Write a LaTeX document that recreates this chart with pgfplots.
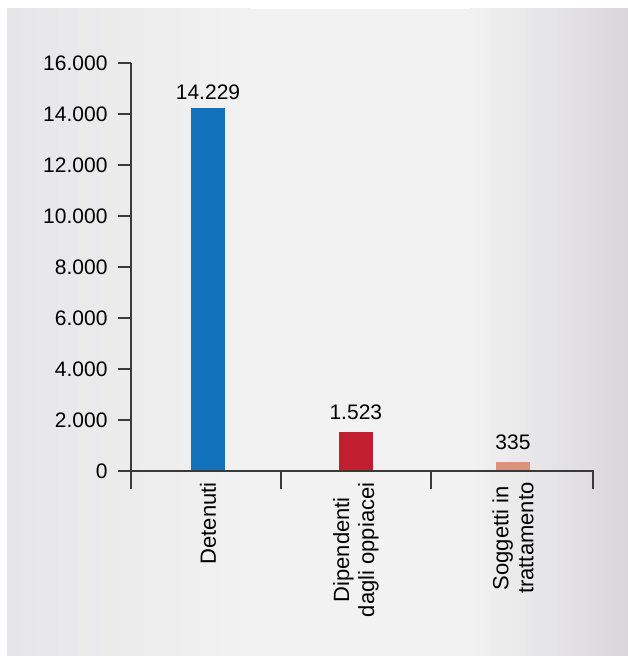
\documentclass[border=0pt]{standalone}
\usepackage{pgfplots}
\pgfplotsset{compat=1.18}
\usepackage{fontspec}
\setmainfont{Liberation Sans}
\definecolor{barblue}{HTML}{1172BB}
\definecolor{barred}{HTML}{C11F30}
\definecolor{barpink}{HTML}{DE9080}
\definecolor{axgray}{HTML}{3A3A3A}
\definecolor{bgL}{HTML}{E6E6E8}
\definecolor{bgM}{HTML}{F2F2F2}
\definecolor{bgR}{HTML}{D8D6DA}
\newcommand{\chartfont}{\fontsize{21bp}{23.5bp}\selectfont}
\newcommand{\catfont}{\fontsize{22bp}{25bp}\selectfont}
\begin{document}
\begin{tikzpicture}[x=1bp,y=1bp]
\useasboundingbox (0,0) rectangle (628,657);
\fill[white] (0,0) rectangle (628,657);
\fill[bgM] (7,1) rectangle (628,648);
\shade[left color=bgL, right color=bgM] (7,1) rectangle (250,648);
\shade[left color=bgM, right color=bgR] (470,1) rectangle (628,648);
\begin{axis}[
  at={(131bp,186bp)}, anchor=south west, scale only axis,
  width=462bp, height=408bp,
  xmin=-0.5, xmax=2.5, ymin=0, ymax=16000,
  axis line style={draw=none},
  ybar, bar width=34bp, bar shift=0pt,
  xtick={0,0.96,1.98},
  xticklabels={Detenuti, {Dipendenti\\dagli oppiacei}, {Soggetti in\\trattamento}},
  x tick label style={rotate=90, anchor=east, align=center, font=\catfont, xshift=5bp},
  major x tick style={draw=none},
  ytick={0,2000,...,16000},
  ytick pos=left,
  y tick label style={font=\chartfont, xshift=-7bp, /pgf/number format/1000 sep={.}, /pgf/number format/assume math mode=true},
  scaled y ticks=false,
  tick align=outside, major tick length=13bp,
  major y tick style={axgray, line width=1.3bp},
  nodes near coords,
  every node near coord/.append style={font=\chartfont, black, /pgf/number format/1000 sep={.}, /pgf/number format/assume math mode=true},
  clip=false,
]
\addplot[fill=barblue, draw=none, every node near coord/.append style={yshift=5bp}] coordinates {(0,14229)};
\addplot[fill=barred, draw=none, every node near coord/.append style={yshift=9bp}] coordinates {(0.96,1523)};
\addplot[fill=barpink, draw=none, every node near coord/.append style={yshift=9bp}] coordinates {(1.98,335)};
\draw[axgray, line width=1.3bp] (axis cs:-0.5,16000) -- (axis cs:-0.5,-706);
\draw[axgray, line width=1.3bp] (axis cs:-0.5,0) -- (axis cs:2.5,0) -- (axis cs:2.5,-706);
\draw[axgray, line width=1.3bp] (axis cs:0.474,0) -- (axis cs:0.474,-706);
\draw[axgray, line width=1.3bp] (axis cs:1.448,0) -- (axis cs:1.448,-706);
\end{axis}
\end{tikzpicture}
\end{document}
